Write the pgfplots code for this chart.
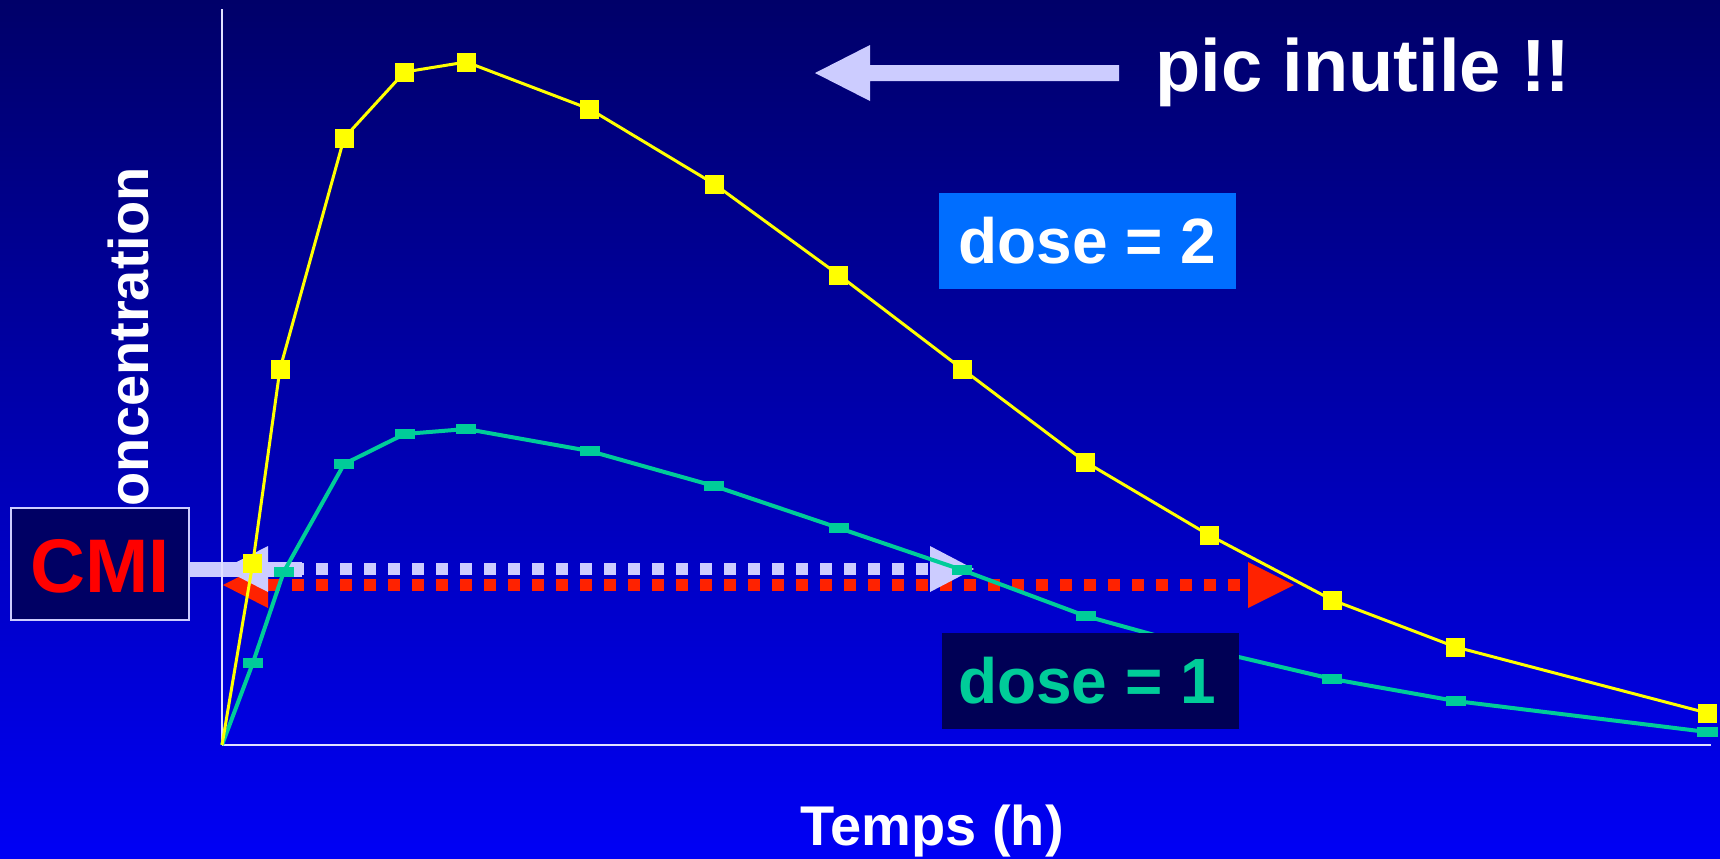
\documentclass[border=0pt]{standalone}
\usepackage{fontspec}
\setmainfont{Liberation Sans}
\usepackage{pgfplots}
\pgfplotsset{compat=1.18}
\definecolor{bgtop}{RGB}{0,0,105}
\definecolor{bgbot}{RGB}{0,0,245}
\definecolor{dyellow}{RGB}{255,255,0}
\definecolor{dgreen}{RGB}{0,204,153}
\definecolor{lav}{RGB}{204,204,255}
\definecolor{cred}{RGB}{255,34,0}
\definecolor{boxtwo}{RGB}{0,110,255}
\definecolor{boxone}{RGB}{0,0,85}
\definecolor{cmibox}{RGB}{0,0,100}
\definecolor{axline}{RGB}{225,225,255}
\begin{document}
\begin{tikzpicture}
\begin{scope}[x=0.5pt,y=-0.5pt]
\shade[top color=bgtop,bottom color=bgbot] (0,0) rectangle (1720,858);
% red CMI arrow (dose 2)
\draw[cred, line width=6pt, dash pattern=on 6pt off 6pt] (268,585) -- (1248,585);
\fill[cred] (223,585) -- (268,562) -- (268,608) -- cycle;
\fill[cred] (1294,585) -- (1248,562) -- (1248,608) -- cycle;
% light CMI arrow (dose 1)
\draw[lav, line width=6pt, dash pattern=on 6pt off 6pt] (268,569) -- (930,569);
\fill[lav] (190,562) rectangle (302,577);
\fill[lav] (223,569) -- (268,546) -- (268,592) -- cycle;
\fill[lav] (974,569) -- (930,546) -- (930,592) -- cycle;
\end{scope}
\begin{axis}[
  at={(111pt,-372.5pt)}, anchor=south west,
  width=744.5pt, height=368pt, scale only axis,
  xmin=0, xmax=12.07, ymin=0, ymax=736,
  axis x line=bottom, axis y line=left,
  axis line style={axline, line width=1pt, -},
  xtick=\empty, ytick=\empty, clip=false]
\addplot[color=dgreen, line width=2pt, mark=square*, mark size=4.8pt,
  mark indices={2,3,4,5,6,7,8,9,10,11,12,13,14,15},
  mark options={solid, fill=dgreen, draw=dgreen, line width=0.4pt, yscale=0.5}]
  coordinates {(0,0) (0.25,82) (0.5,173) (0.99,281) (1.48,311) (1.98,316) (2.98,294)
  (3.99,259) (5,217) (6,175) (7,129) (8,95) (9,66) (10,44) (12.04,13)};
\addplot[color=dyellow, line width=1.5pt, mark=square*, mark size=4.5pt,
  mark indices={2,3,4,5,6,7,8,9,10,11,12,13,14,15},
  mark options={solid, fill=dyellow, draw=dyellow, line width=0.4pt}]
  coordinates {(0,0) (0.25,182) (0.47,376) (0.99,607) (1.48,673) (1.98,683) (2.98,636)
  (3.99,561) (5,470) (6,376) (7,283) (8,210) (9,145) (10,98) (12.04,32)};
\end{axis}
\begin{scope}[x=0.5pt,y=-0.5pt]
\fill[boxtwo] (939,193) rectangle (1236,289);
\node[anchor=base, text=white, font=\fontsize{32}{36}\selectfont\bfseries, inner sep=0] at (1087.5,263) {dose = 2};
\fill[boxone] (942,633) rectangle (1239,729);
\node[anchor=base, text=dgreen, font=\fontsize{32}{36}\selectfont\bfseries, inner sep=0] at (1087,703) {dose = 1};
\fill[lav] (1119,65) -- (870,65) -- (870,45) -- (815,73) -- (870,101) -- (870,81) -- (1119,81) -- cycle;
\node[anchor=base west, text=white, font=\fontsize{37}{40}\selectfont\bfseries, inner sep=0] at (1155,91) {pic inutile !!};
\node[anchor=base, rotate=90, text=white, font=\fontsize{28}{32}\selectfont\bfseries, inner sep=0] at (148,357) {Concentration};
\fill[cmibox] (11,508) rectangle (189,620);
\draw[lav, line width=0.75pt] (11,508) rectangle (189,620);
\node[anchor=base, text=red, font=\fontsize{38}{42}\selectfont\bfseries, inner sep=0] at (100,592) {CMI};
\node[anchor=base, text=white, font=\fontsize{28}{32}\selectfont\bfseries, inner sep=0] at (932,845) {Temps (h)};
\end{scope}
\end{tikzpicture}
\end{document}
